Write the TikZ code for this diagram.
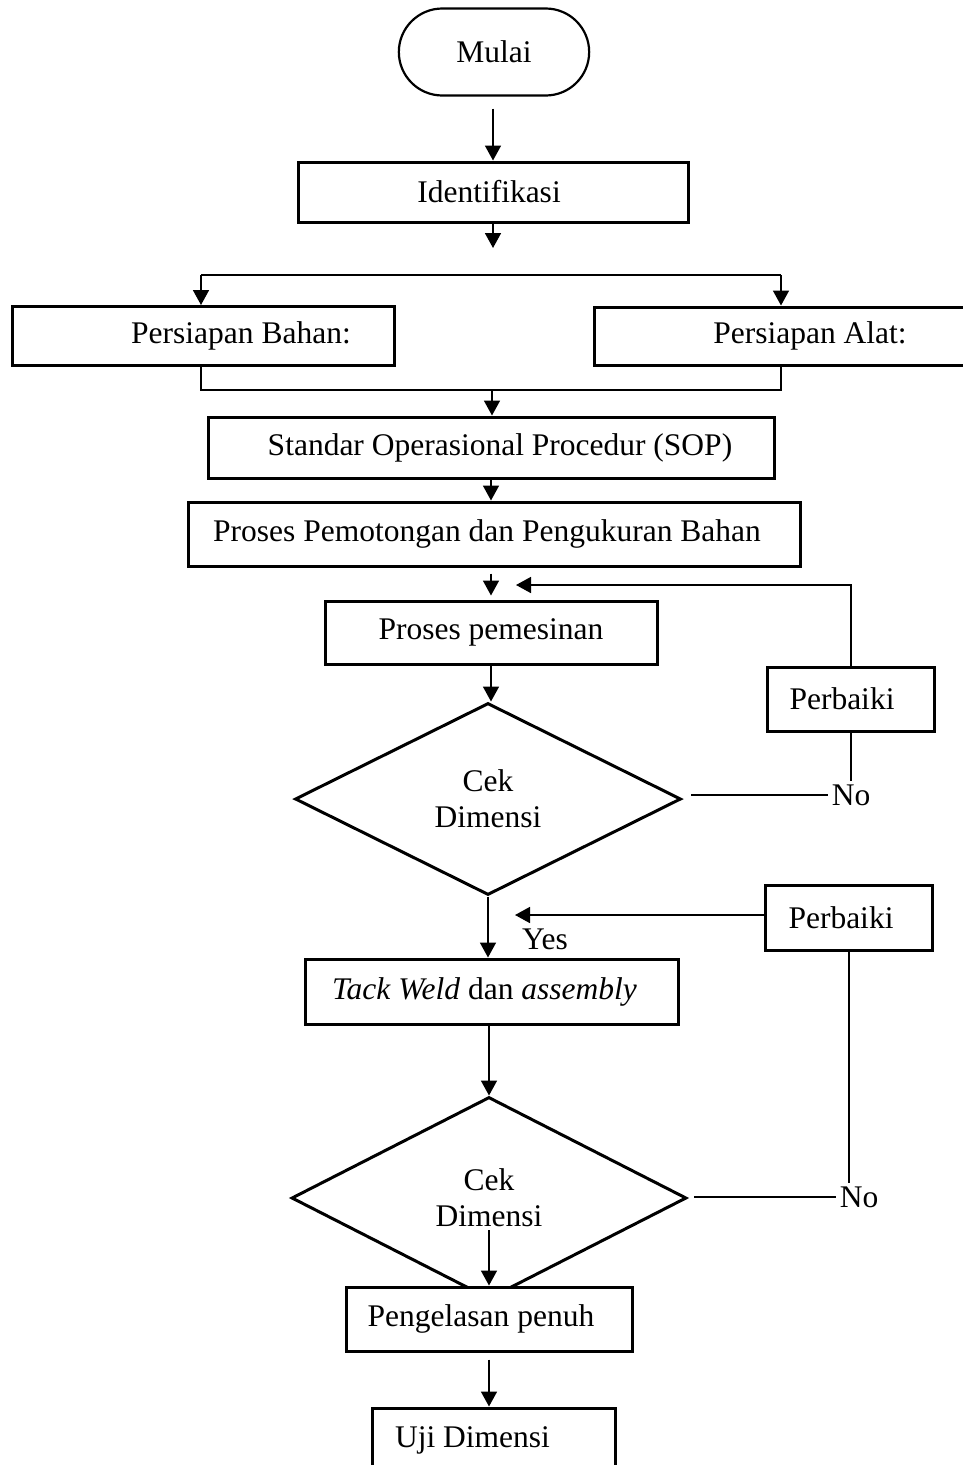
\documentclass[tikz,border=0pt]{standalone}
\usepackage{fontspec}
\setmainfont{Liberation Serif}
\usetikzlibrary{shapes.geometric,shapes.misc,arrows.meta}

\tikzset{
  kotak/.style={draw, rectangle, line width=3pt, fill=white, inner sep=6pt},
  awal/.style={draw, rounded rectangle, line width=2.2pt, minimum width=197pt, minimum height=87pt},
  keputusan/.style={draw, diamond, line width=3pt, inner sep=0pt, align=center},
  panah/.style={line width=1.7pt, -{Triangle[length=15pt,width=16pt]}},
  garis/.style={line width=1.7pt},
  geser kanan/.style={execute at begin node={\hspace*{#1}}},
  geser kiri/.style={execute at end node={\hspace*{#1}}}
}

\begin{document}
\begin{tikzpicture}[x=1pt, y=-1pt, font=\fontsize{31.5}{36}\selectfont]
  \useasboundingbox (0,0) rectangle (963,1465);
  \clip (0,0) rectangle (963,1465);

  % kotak-kotak proses
  \node[awal] (mulai) at (494,52) {Mulai};
  \node[kotak, minimum width=390pt, minimum height=60pt, geser kiri=8pt] (identifikasi) at (493,192) {Identifikasi};
  \node[kotak, minimum width=382pt, minimum height=59pt, geser kanan=76pt] (bahan) at (203,336) {Persiapan Bahan:};
  \node[kotak, minimum width=386pt, minimum height=58pt, geser kanan=46pt] (alat) at (787,336) {Persiapan Alat:};
  \node[kotak, minimum width=566pt, minimum height=61pt, geser kanan=18pt] (sop) at (491,447.5) {Standar Operasional Procedur (SOP)};
  \node[kotak, minimum width=612pt, minimum height=64pt, geser kiri=14pt] (potong) at (494,534) {Proses Pemotongan dan Pengukuran Bahan};
  \node[kotak, minimum width=332pt, minimum height=63pt] (pemesinan) at (491,632.5) {Proses pemesinan};
  \node[keputusan, minimum width=386pt, minimum height=192pt] (cek1) at (488,799) {Cek\\Dimensi};
  \node[kotak, minimum width=167pt, minimum height=64pt, geser kiri=18pt] (perbaiki1) at (851,699) {Perbaiki};
  \node (no1) at (851,795) {No};
  \node[kotak, minimum width=167pt, minimum height=65pt, geser kiri=16pt] (perbaiki2) at (849,917.5) {Perbaiki};
  \node (yes) at (545,939) {Yes};
  \node[kotak, minimum width=373pt, minimum height=65pt, geser kiri=14pt] (tack) at (491.5,991.5) {\textit{Tack Weld} dan \textit{assembly}};
  \node[keputusan, minimum width=395pt, minimum height=202pt] (cek2) at (489,1198) {Cek\\Dimensi};
  \node (no2) at (859,1197) {No};
  \node[kotak, minimum width=243pt, minimum height=64pt, geser kiri=42pt] (uji) at (493.5,1440) {Uji Dimensi};

  % titik bantu
  \coordinate (ujung1) at (493,248);
  \coordinate (cabangkiri) at (201,275);
  \coordinate (cabangkanan) at (781,275);
  \coordinate (gabungkiri) at (201,390);
  \coordinate (gabungkanan) at (781,390);
  \coordinate (gabungtengah) at (492,390);
  \coordinate (balik1) at (516,585);
  \coordinate (balik2) at (515,915);
  \coordinate (kanan1) at (691,795);
  \coordinate (kanan2) at (694,1197);

  % alur
  \draw[panah] ([yshift=-12pt]identifikasi.north |- mulai.south) -- (identifikasi.north);
  \draw[panah] (identifikasi.south) -- (ujung1);
  \draw[garis] (cabangkiri) -- (cabangkanan);
  \draw[panah] (cabangkiri) -- (cabangkiri |- bahan.north);
  \draw[panah] (cabangkanan) -- (cabangkanan |- alat.north);
  \draw[garis] (gabungkiri |- bahan.south) -- (gabungkiri) -- (gabungkanan) -- (gabungkanan |- alat.south);
  \draw[panah] (gabungtengah) -- (gabungtengah |- sop.north);
  \draw[panah] (sop.south) -- (sop.south |- potong.north);
  \draw[panah] ([yshift=-6pt]pemesinan.north |- potong.south) -- ([yshift=4pt]pemesinan.north);
  \draw[panah] (pemesinan.south) -- (pemesinan.south |- cek1.north);
  \draw[panah] (perbaiki1.north) |- (balik1);
  \draw[garis] (kanan1) -- (kanan1 -| no1.west);
  \draw[garis] (no1.north) -- (perbaiki1.south);
  \draw[panah] (cek1.south) -- (cek1.south |- tack.north);
  \draw[panah] (perbaiki2.west |- balik2) -- (balik2);
  \draw[garis] (perbaiki2.south) -- (perbaiki2.south |- no2.north);
  \draw[garis] (kanan2) -- (kanan2 -| no2.west);
  \draw[panah] (cek2.north |- tack.south) -- (cek2.north);
  \node[kotak, minimum width=286pt, minimum height=64pt, geser kiri=16pt] (las) at (489,1319) {Pengelasan penuh};
  \draw[panah] ([yshift=-32pt]cek2.center) -- (las.north);
  \draw[panah] ([yshift=-7pt]las.south) -- (las.south |- uji.north);
\end{tikzpicture}
\end{document}
